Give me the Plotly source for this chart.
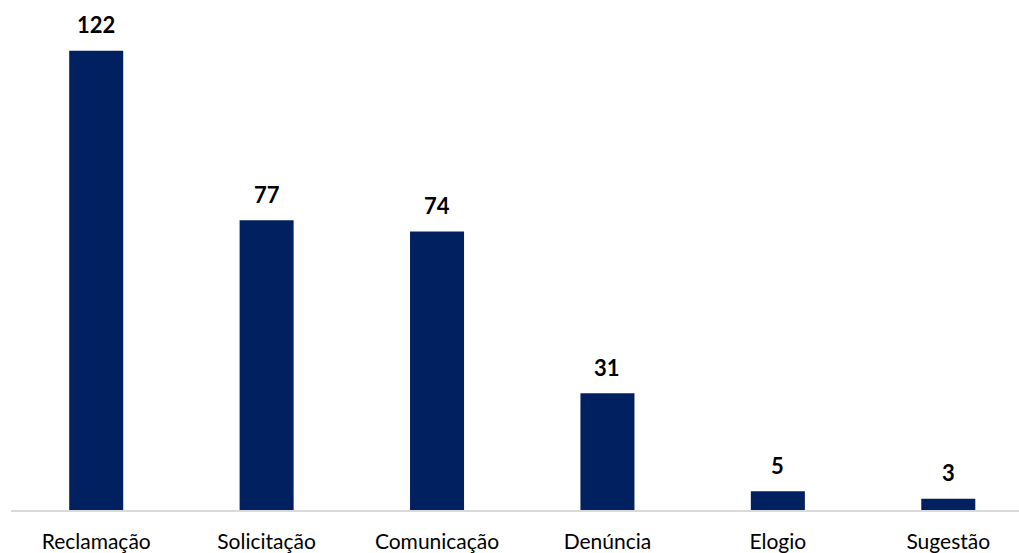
import plotly.graph_objects as go

categorias = ["Reclamação", "Solicitação", "Comunicação", "Denúncia", "Elogio", "Sugestão"]
quantidades = [122, 77, 74, 31, 5, 3]

fig = go.Figure(
    go.Bar(
        x=categorias,
        y=quantidades,
        width=0.317,
        marker=dict(color="#002060", line=dict(width=0)),
        cliponaxis=False,
    )
)

# value labels above each bar
for cat, val in zip(categorias, quantidades):
    fig.add_annotation(
        x=cat,
        y=val,
        text=str(val),
        showarrow=False,
        yanchor="middle",
        yshift=26,
        font=dict(family="Lato", size=22, color="#000000", weight="bold"),
    )

fig.update_layout(
    width=1019,
    height=553,
    margin=dict(l=11, r=0, t=0, b=40),
    paper_bgcolor="white",
    plot_bgcolor="white",
    showlegend=False,
    xaxis=dict(
        range=[-0.5, 5.415],
        showline=True,
        linecolor="#d9d9d9",
        linewidth=1.5,
        showgrid=False,
        ticks="",
        ticklabelstandoff=12,
        tickfont=dict(family="Lato", size=21, color="#000000"),
    ),
    yaxis=dict(
        range=[0, 135.5],
        visible=False,
        showgrid=False,
        zeroline=False,
    ),
)

fig.write_html("out.html")
